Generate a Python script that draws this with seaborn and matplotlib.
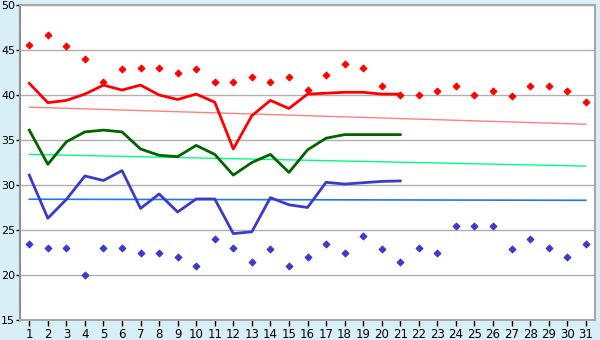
import numpy as np
import pandas as pd
import matplotlib
matplotlib.use("Agg")
import matplotlib.pyplot as plt
import seaborn as sns

days = list(range(1, 32))
max_pts = [45.6, 46.7, 45.5, 44.0, 41.5, 42.9, 43.0, 43.0, 42.5, 42.9,
           41.5, 41.5, 42.0, 41.5, 42.0, 40.6, 42.2, 43.5, 43.0, 41.0,
           40.0, 40.0, 40.5, 41.0, 40.0, 40.5, 39.9, 41.0, 41.0, 40.5, 39.2]
min_pts = [23.5, 23.0, 23.0, 20.0, 23.0, 23.0, 22.5, 22.5, 22.0, 21.0,
           24.0, 23.0, 21.5, 22.9, 21.0, 22.0, 23.5, 22.5, 24.3, 22.9,
           21.4, 23.0, 22.5, 25.4, 25.5, 25.5, 22.9, 24.0, 23.0, 22.0, 23.5]
line_days = list(range(1, 22))
red_line = [41.3, 39.15, 39.4, 40.1, 41.1, 40.55, 41.1, 40.0, 39.5, 40.1,
            39.2, 34.0, 37.7, 39.4, 38.5, 40.1, 40.2, 40.3, 40.3, 40.1, 40.1]
green_line = [36.1, 32.3, 34.8, 35.9, 36.1, 35.9, 34.0, 33.3, 33.15, 34.4,
              33.4, 31.1, 32.5, 33.4, 31.4, 33.9, 35.2, 35.6, 35.6, 35.6, 35.6]
blue_line = [31.1, 26.3, 28.4, 31.0, 30.5, 31.6, 27.4, 29.0, 27.0, 28.45,
             28.45, 24.6, 24.8, 28.6, 27.8, 27.5, 30.3, 30.1, 30.25, 30.4, 30.45]
trend_days = [1, 31]
red_trend = [38.65, 36.75]
green_trend = [33.4, 32.1]
blue_trend = [28.42, 28.3]

fig = plt.figure(figsize=(6, 3.4), dpi=100)
fig.patch.set_facecolor("#d9eff7")
ax = fig.add_axes([20 / 600, 20 / 340, 575 / 600, 315 / 340])
ax.set_facecolor("white")

sns.lineplot(x=trend_days, y=red_trend, color="#ff8080", lw=1, ax=ax)
sns.lineplot(x=trend_days, y=green_trend, color="#00ff80", lw=1, ax=ax)
sns.lineplot(x=trend_days, y=blue_trend, color="#1e78f0", lw=1.2, ax=ax)

sns.lineplot(x=line_days, y=red_line, color="#ff0000", lw=2, ax=ax)
sns.lineplot(x=line_days, y=green_line, color="#006400", lw=2, ax=ax)
sns.lineplot(x=line_days, y=blue_line, color="#3a3acc", lw=2, ax=ax)

sns.scatterplot(x=days, y=max_pts, color="#ff0000", marker="D", s=12,
                edgecolor="#ff0000", linewidth=0.8, ax=ax, zorder=5)
sns.scatterplot(x=days, y=min_pts, color="#3a3acc", marker="D", s=12,
                edgecolor="#3a3acc", linewidth=0.8, ax=ax, zorder=5)

ax.set_xlim(0.5, 31.5)
ax.set_ylim(15, 50)
ax.set_yticks(range(15, 51, 5))
ax.set_xticks(days)
ax.grid(axis="y", color="#b0b0b0", lw=1)
ax.set_axisbelow(True)
for s in ["top", "right", "bottom", "left"]:
    ax.spines[s].set_color("#a8a8a8")
    ax.spines[s].set_linewidth(1.5)
ax.spines["left"].set_color("#909090")
ax.tick_params(axis="x", colors="black", labelsize=8.5, length=4,
               width=1, pad=2)
ax.tick_params(axis="y", colors="black", labelsize=8, length=3,
               width=1, pad=0.5)
ax.set_xlabel("")
ax.set_ylabel("")

fig.savefig("out.png", dpi=100, facecolor=fig.get_facecolor())
